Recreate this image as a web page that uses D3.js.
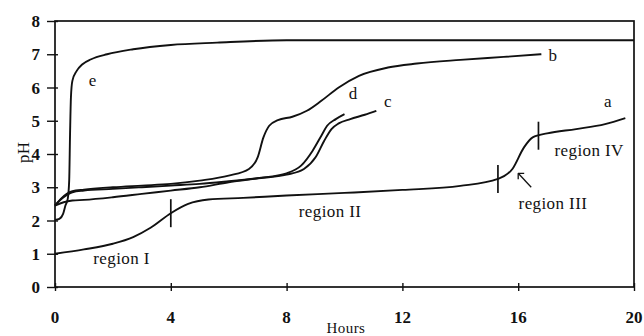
<!DOCTYPE html>
<html lang="en">
<head>
    <meta charset="UTF-8">
    <title>pH against Hours</title>
    <script src="https://d3js.org/d3.v7.min.js"></script>
    <style>
        body { margin: 0; background: #fff; }
        .tick-label { font: bold 17px "Liberation Serif", serif; fill: #111; }
        .note { font: 17px "Liberation Serif", serif; fill: #111; letter-spacing: 0.4px; }
        .curve { fill: none; stroke: #111; stroke-width: 1.9; }
    </style>
</head>
<body>
    <script>
        // curve a
        const hoursA = [0, 1, 2, 2.7, 3.3, 4, 4.6, 5.3, 6.5, 8, 10, 12, 14, 15.3, 15.8, 16.2, 16.5, 17, 18, 19, 19.7]
        const phA = [1.0, 1.13, 1.3, 1.5, 1.78, 2.22, 2.5, 2.63, 2.68, 2.75, 2.83, 2.92, 3.04, 3.25, 3.55, 4.2, 4.5, 4.62, 4.75, 4.9, 5.08]
        // curve b
        const hoursB = [0, 0.2, 0.6, 1, 2, 3, 4, 5, 6, 6.7, 7.0, 7.2, 7.4, 7.7, 8.2, 8.7, 9.2, 9.8, 10.5, 11.5, 12.5, 14, 15.5, 16.8]
        const phB = [2.45, 2.65, 2.88, 2.93, 3.0, 3.05, 3.1, 3.2, 3.35, 3.55, 3.9, 4.5, 4.85, 5.02, 5.12, 5.3, 5.6, 6.0, 6.35, 6.6, 6.72, 6.83, 6.92, 7.0]
        // curve c
        const hoursC = [0, 0.2, 0.6, 1, 2, 3, 4, 5, 6, 7, 8, 8.6, 9.0, 9.3, 9.55, 9.8, 10.2, 10.7, 11.1]
        const phC = [2.45, 2.63, 2.85, 2.9, 2.95, 3.0, 3.05, 3.1, 3.18, 3.27, 3.38, 3.55, 3.9, 4.4, 4.75, 4.92, 5.05, 5.18, 5.3]
        // curve d (grey)
        const hoursD = [0, 0.3, 0.6, 1, 2, 3, 4, 5, 6, 7, 8, 8.5, 8.9, 9.2, 9.4, 9.7, 10.0]
        const phD = [2.45, 2.55, 2.6, 2.62, 2.7, 2.8, 2.9, 3.0, 3.15, 3.27, 3.42, 3.65, 4.1, 4.55, 4.85, 5.05, 5.2]
        // curve e
        const hoursE = [0, 0.15, 0.28, 0.36, 0.44, 0.49, 0.52, 0.55, 0.6, 0.75, 0.95, 1.25, 1.8, 2.7, 4, 5.6, 8, 12, 16, 20]
        const phE = [2.02, 2.05, 2.2, 2.45, 2.65, 3.2, 4.6, 5.7, 6.2, 6.5, 6.7, 6.85, 7.0, 7.15, 7.28, 7.35, 7.42, 7.42, 7.42, 7.42]

        const xTicks = [0, 4, 8, 12, 16, 20]
        const yTicks = [0, 1, 2, 3, 4, 5, 6, 7, 8]

        // boundaries between regions on curve a
        const markerHours = [4, 15.3, 16.7]
        const markerPh = [2.22, 3.25, 4.55]

        const curveNames = ["a", "b", "c", "d", "e"]
        const curveNameHours = [19.1, 17.2, 11.5, 10.3, 1.3]
        const curveNamePh = [5.4, 6.8, 5.4, 5.65, 6.05]

        const regionNames = ["region I", "region II", "region III", "region IV"]
        const regionHours = [2.3, 9.5, 17.2, 18.45]
        const regionPh = [0.7, 2.1, 2.35, 3.95]

        const margin = {top: 21, right: 10, bottom: 49, left: 55},
              width = 644 - margin.left - margin.right,
              height = 336 - margin.top - margin.bottom

        const svg = d3.select("body").append("svg")
            .attr("width", 644)
            .attr("height", 336)
            .append("g")
            .attr("transform", "translate(" + margin.left + "," + margin.top + ")")

        const x = d3.scaleLinear().domain([0, 20]).range([0, width])
        const y = d3.scaleLinear().domain([0, 8]).range([height, 0])

        // frame
        svg.append("rect")
            .attr("width", width)
            .attr("height", height)
            .attr("fill", "none")
            .attr("stroke", "#111")
            .attr("stroke-width", 1.7)

        svg.append("g")
            .attr("transform", "translate(0," + height + ")")
            .call(d3.axisBottom(x).tickValues(xTicks).tickSize(0).tickFormat(""))
            .call(g => g.select(".domain").remove())
            .selectAll(".tick").append("line")
            .attr("y1", -4).attr("y2", 4)
            .attr("stroke", "#111").attr("stroke-width", 1.4)

        svg.append("g")
            .call(d3.axisLeft(y).tickValues(yTicks).tickSize(0).tickFormat(""))
            .call(g => g.select(".domain").remove())
            .selectAll(".tick").append("line")
            .attr("x1", -8).attr("x2", 3)
            .attr("stroke", "#111").attr("stroke-width", 1.4)

        svg.selectAll(".xlab")
            .data(xTicks)
            .enter().append("text")
            .attr("class", "tick-label")
            .attr("x", d => x(d))
            .attr("y", height + 36)
            .attr("text-anchor", "middle")
            .text(d => d)

        svg.selectAll(".ylab")
            .data(yTicks)
            .enter().append("text")
            .attr("class", "tick-label")
            .attr("x", -15)
            .attr("y", d => y(d) + 6)
            .attr("text-anchor", "end")
            .text(d => d)

        svg.append("text")
            .attr("class", "note")
            .attr("x", x(10.05))
            .attr("y", height + 46)
            .attr("text-anchor", "middle")
            .style("font-size", "15px")
            .text("Hours")

        svg.append("text")
            .attr("class", "note")
            .attr("transform", "translate(-26," + y(4.05) + ") rotate(-90)")
            .attr("text-anchor", "middle")
            .text("pH")

        const line = d3.line()
            .x(d => x(d[0]))
            .y(d => y(d[1]))
            .curve(d3.curveMonotoneX)

        const series = [
            [hoursA, phA, "#111", 1.9],
            [hoursB, phB, "#111", 1.9],
            [hoursC, phC, "#111", 1.9],
            [hoursD, phD, "#8a8a8a", 1.3],
            [hoursE, phE, "#111", 1.9]
        ]

        series.forEach(([hs, ps, col, w]) => {
            svg.append("path")
                .datum(hs.map((h, i) => [h, ps[i]]))
                .attr("class", "curve")
                .attr("stroke", col)
                .attr("stroke-width", w)
                .attr("d", line)
        })

        svg.selectAll(".marker")
            .data(markerHours)
            .enter().append("line")
            .attr("x1", d => x(d))
            .attr("x2", d => x(d))
            .attr("y1", (d, i) => y(markerPh[i]) - 14)
            .attr("y2", (d, i) => y(markerPh[i]) + 14)
            .attr("stroke", "#111")
            .attr("stroke-width", 1.7)

        svg.selectAll(".cname")
            .data(curveNames)
            .enter().append("text")
            .attr("class", "note")
            .attr("x", (d, i) => x(curveNameHours[i]))
            .attr("y", (d, i) => y(curveNamePh[i]))
            .attr("text-anchor", "middle")
            .text(d => d)

        svg.selectAll(".rname")
            .data(regionNames)
            .enter().append("text")
            .attr("class", "note")
            .attr("x", (d, i) => x(regionHours[i]))
            .attr("y", (d, i) => y(regionPh[i]))
            .attr("text-anchor", "middle")
            .text(d => d)

        // arrow pointing at region III
        const ax0 = x(16.45), ay0 = y(3.0), ax1 = x(16.0), ay1 = y(3.42)
        svg.append("line")
            .attr("x1", ax0).attr("y1", ay0)
            .attr("x2", ax1).attr("y2", ay1)
            .attr("stroke", "#111").attr("stroke-width", 1.3)
        svg.append("path")
            .attr("d", "M" + ax1 + "," + ay1 + "l0,6 M" + ax1 + "," + ay1 + "l6,0")
            .attr("stroke", "#111").attr("stroke-width", 1.3).attr("fill", "none")
    </script>
</body>
</html>
